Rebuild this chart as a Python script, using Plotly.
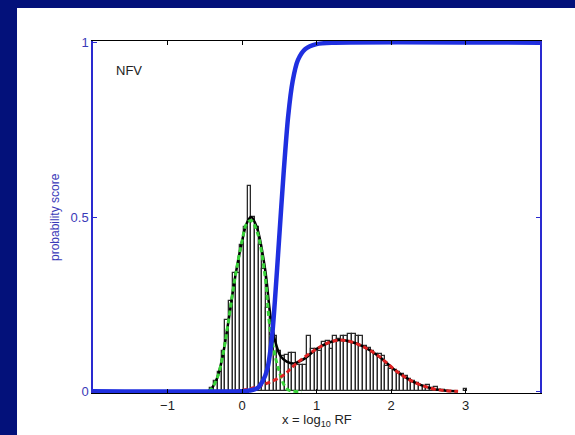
import plotly.graph_objects as go

# ---- data ----
hist_x = [-0.40, -0.35, -0.30, -0.25, -0.20, -0.15, -0.10, -0.05, 0.00, 0.05,
          0.10, 0.15, 0.20, 0.25, 0.30, 0.35, 0.40, 0.45, 0.50, 0.55,
          0.60, 0.65, 0.70, 0.75, 0.80, 0.85, 0.90, 0.95, 1.00, 1.05,
          1.10, 1.15, 1.20, 1.25, 1.30, 1.35, 1.40, 1.45, 1.50, 1.55,
          1.60, 1.65, 1.70, 1.75, 1.80, 1.85, 1.90, 1.95, 2.00, 2.05,
          2.10, 2.15, 2.20, 2.25, 2.30, 2.35, 2.40, 2.45, 2.50, 2.55,
          2.60, 2.65, 2.70, 2.75, 3.00]
hist_y = [0.010, 0.030, 0.055, 0.115, 0.205, 0.260, 0.340, 0.340, 0.420, 0.470,
          0.590, 0.500, 0.470, 0.420, 0.350, 0.240, 0.200, 0.160, 0.115, 0.100,
          0.105, 0.110, 0.110, 0.075, 0.075, 0.075, 0.160, 0.120, 0.120, 0.115,
          0.140, 0.145, 0.120, 0.158, 0.150, 0.160, 0.158, 0.164, 0.165, 0.160,
          0.158, 0.130, 0.125, 0.115, 0.107, 0.108, 0.100, 0.073, 0.064, 0.060,
          0.055, 0.050, 0.045, 0.035, 0.030, 0.025, 0.016, 0.012, 0.018, 0.008,
          0.012, 0.004, 0.003, 0.002, 0.006]

green_x = [-0.45, -0.40, -0.33, -0.26, -0.19, -0.09, 0.00, 0.06, 0.12, 0.20,
           0.31, 0.38, 0.49, 0.60, 0.70, 0.80]
green_y = [0.0, 0.010, 0.040, 0.100, 0.190, 0.330, 0.430, 0.480, 0.490, 0.460,
           0.330, 0.175, 0.064, 0.007, 0.0, 0.0]

red_x = [-0.10, 0.10, 0.30, 0.55, 0.72, 0.99, 1.17, 1.30, 1.45, 1.61,
         1.84, 2.07, 2.30, 2.53, 2.71, 2.90]
red_y = [0.0, 0.007, 0.020, 0.045, 0.078, 0.120, 0.140, 0.147, 0.143, 0.130,
         0.100, 0.058, 0.027, 0.009, 0.002, 0.0]

mix_x = [-0.45, -0.40, -0.33, -0.26, -0.19, -0.09, 0.00, 0.06, 0.12, 0.20,
         0.31, 0.38, 0.45, 0.52, 0.60, 0.70, 0.85, 0.99, 1.17, 1.30,
         1.45, 1.61, 1.84, 2.07, 2.30, 2.53, 2.71, 2.90]
mix_y = [0.0, 0.010, 0.040, 0.100, 0.190, 0.330, 0.430, 0.480, 0.500, 0.470,
         0.350, 0.220, 0.140, 0.100, 0.085, 0.080, 0.095, 0.120, 0.140, 0.147,
         0.143, 0.130, 0.100, 0.058, 0.027, 0.009, 0.002, 0.0]

prob_x = [-2.0, 0.0, 0.10, 0.20, 0.28, 0.34, 0.40, 0.44, 0.50, 0.56,
          0.62, 0.68, 0.75, 0.85, 1.00, 1.25, 4.0]
prob_y = [0.0, 0.0, 0.002, 0.008, 0.030, 0.064, 0.150, 0.255, 0.443, 0.630,
          0.790, 0.890, 0.950, 0.982, 0.996, 1.0, 1.0]

x_ticks = [-1, 0, 1, 2, 3]
y_ticks = [0, 0.5, 1]
y_ticktext = ["0", "0.5", "1"]

BG = "#03117a"
BLUE = "#1f2fe0"
AXBLUE = "#2a2ad0"
LBLUE = "#3a3ab8"
FONT = "Liberation Sans, Arial, sans-serif"

fig = go.Figure()
fig.add_trace(go.Bar(x=hist_x, y=hist_y, width=0.05,
                     marker=dict(color="white", line=dict(color="#2a2a2a", width=1.3)),
                     showlegend=False))
fig.add_trace(go.Scatter(x=mix_x, y=mix_y, mode="lines", line=dict(color="black", width=2.5, shape="spline"),
                         showlegend=False))
fig.add_trace(go.Scatter(x=green_x, y=green_y, mode="lines",
                         line=dict(color="#3ad23a", width=3, dash="5px,3px", shape="spline"),
                         showlegend=False))
fig.add_trace(go.Scatter(x=red_x, y=red_y, mode="lines",
                         line=dict(color="#e02222", width=3, dash="5px,3px", shape="spline"),
                         showlegend=False))
fig.add_trace(go.Scatter(x=prob_x, y=prob_y, mode="lines",
                         line=dict(color=BLUE, width=4.5, shape="spline", smoothing=0.8),
                         showlegend=False))

# white panel
fig.add_shape(type="rect", xref="paper", yref="paper", x0=-0.17, x1=1.2, y0=-0.3, y1=1.094,
              fillcolor="white", line=dict(width=0), layer="below")

fig.add_annotation(x=-1.72, y=0.92, xref="x", yref="y", text="NFV", showarrow=False,
                   xanchor="left", yanchor="middle", font=dict(family=FONT, size=13, color="#222222"))
fig.add_annotation(x=0.5, y=-0.078, xref="paper", yref="paper",
                   text="x = log<sub>10</sub> RF", showarrow=False, xanchor="center", yanchor="middle",
                   font=dict(family=FONT, size=13, color="#222222"))
fig.add_annotation(x=-0.085, y=0.5, xref="paper", yref="paper", text="probability score",
                   textangle=-90, showarrow=False, xanchor="center", yanchor="middle",
                   font=dict(family=FONT, size=12, color=LBLUE))

fig.update_layout(
    width=575, height=435,
    margin=dict(l=93, r=35, t=41, b=42),
    paper_bgcolor=BG, plot_bgcolor="white",
    bargap=0, showlegend=False,
    font=dict(family=FONT, size=13, color="#222222"),
    xaxis=dict(range=[-2, 4], tickvals=x_ticks, ticks="inside", ticklen=4, tickcolor="black",
               showline=True, linecolor="black", linewidth=1, mirror="ticks",
               showgrid=False, zeroline=False, tickfont=dict(size=13, color="#222222")),
    yaxis=dict(range=[-0.005, 1.005], tickvals=y_ticks, ticktext=y_ticktext, ticks="inside",
               ticklen=4, tickcolor=AXBLUE, showline=True, linecolor=AXBLUE, linewidth=1.5,
               mirror="ticks", showgrid=False, zeroline=False,
               tickfont=dict(size=13, color=LBLUE)),
)

fig.write_html("out.html")
